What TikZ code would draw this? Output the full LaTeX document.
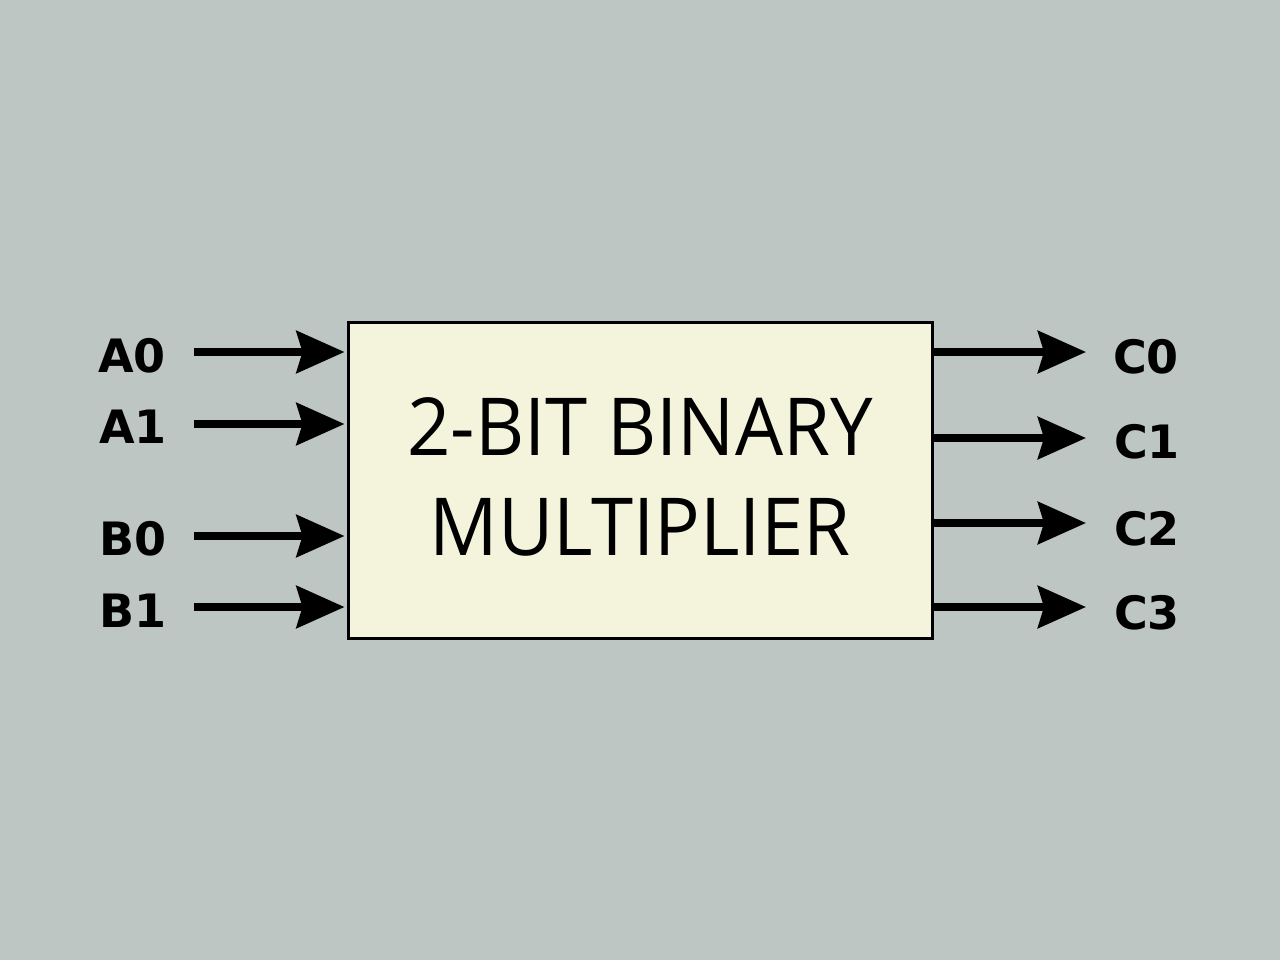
\documentclass[tikz,border=0pt]{standalone}
\usepackage{fontspec}
\setmainfont{Open Sans}
\newfontfamily\ttlfont[FakeStretch=0.95]{Open Sans}
\newfontfamily\labfont{DejaVu Sans}
\usetikzlibrary{arrows.meta}
\definecolor{bgc}{HTML}{BDC6C3}
\definecolor{boxc}{HTML}{F4F4DC}
\tikzset{
  sig/.style={line width=7.5pt,-{Stealth[length=48pt,width=42pt,inset=6pt]}},
  lab/.style={font=\labfont\bfseries\fontsize{46}{50}\selectfont,anchor=base,inner sep=0pt},
  ttl/.style={font=\ttlfont\fontsize{80}{86}\selectfont,anchor=base,inner sep=0pt}
}
\begin{document}
\begin{tikzpicture}[x=1pt,y=-1pt]
\fill[bgc] (0,0) rectangle (1280,960);
\useasboundingbox (0,0) rectangle (1280,960);
\node[draw=black,line width=3pt,fill=boxc,minimum width=584pt,minimum height=316pt,inner sep=0pt] (box) at (640,480) {};
\node[ttl] (t1) at (640,455) {2-BIT BINARY};
\node[ttl] (t2) at (640,555) {MULTIPLIER};
% labels
\node[lab] (a0) at (132,372) {A0};
\node[lab] (a1) at (133,443) {A1};
\node[lab] (b0) at (133,555) {B0};
\node[lab] (b1) at (133,627) {B1};
\node[lab] (c0) at (1146,373) {C0};
\node[lab] (c1) at (1147,458) {C1};
\node[lab] (c2) at (1147,545) {C2};
\node[lab] (c3) at (1147,629) {C3};
% arrow tails / heads
\coordinate (ia0) at (194,352);
\coordinate (ia1) at (194,424);
\coordinate (ib0) at (194,536);
\coordinate (ib1) at (194,607);
\coordinate (oc0) at (1086,352);
\coordinate (oc1) at (1086,438);
\coordinate (oc2) at (1086,523);
\coordinate (oc3) at (1086,607);
\foreach \n in {a0,a1,b0,b1}{
  \draw[sig] (i\n) -- ([xshift=-2pt]box.west |- i\n);
}
\foreach \n in {c0,c1,c2,c3}{
  \draw[sig] ([xshift=-1.5pt]box.east |- o\n) -- (o\n);
}
\end{tikzpicture}
\end{document}
